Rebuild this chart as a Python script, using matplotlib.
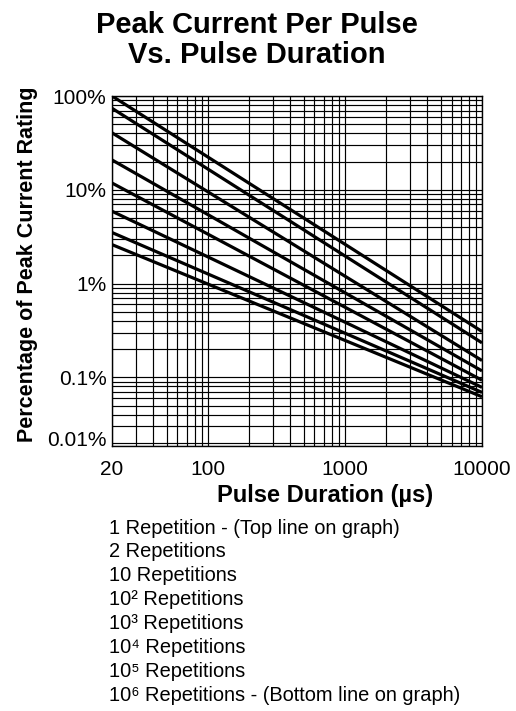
import numpy as np
import matplotlib.pyplot as plt
from matplotlib.ticker import LogLocator, FixedLocator, NullFormatter

plt.rcParams['font.family'] = ['Liberation Sans', 'DejaVu Sans']

# pulse duration end points (µs) and % of peak current at each end
pulse_duration = [20, 10000]
pct_start = [100, 74, 40.5, 20.8, 11.8, 5.9, 3.5, 2.6]
pct_end = [0.308, 0.233, 0.151, 0.117, 0.093, 0.078, 0.069, 0.062]

legend_labels = [
    "1 Repetition - (Top line on graph)",
    "2 Repetitions",
    "10 Repetitions",
    "10\u00b2 Repetitions",
    "10\u00b3 Repetitions",
    "10\u2074 Repetitions",
    "10\u2075 Repetitions",
    "10\u2076 Repetitions - (Bottom line on graph)",
]

x_ticks = [20, 100, 1000, 10000]
x_tick_labels = ["20", "100", "1000", "10000"]
y_bottom = 0.0185
y_ticks = [y_bottom, 0.1, 1, 10, 100]
y_tick_labels = ["0.01%", "0.1%", "1%", "10%", "100%"]

fig = plt.figure(figsize=(5.16, 7.11), dpi=100)
ax = fig.add_axes([112 / 516, 1 - 446 / 711, 370 / 516, 350 / 711])

for s, e in zip(pct_start, pct_end):
    ax.plot(pulse_duration, [s, e], color='black', linewidth=2.3,
            solid_capstyle='butt', zorder=3)

ax.set_xscale('log')
ax.set_yscale('log')
ax.set_xlim(20, 10000)
ax.set_ylim(y_bottom, 100)

ax.xaxis.set_major_locator(FixedLocator(x_ticks))
ax.set_xticklabels(x_tick_labels)
ax.xaxis.set_minor_locator(LogLocator(base=10, subs=np.arange(2, 10)))
ax.xaxis.set_minor_formatter(NullFormatter())

ax.yaxis.set_major_locator(FixedLocator(y_ticks))
ax.set_yticklabels(y_tick_labels)
ax.yaxis.set_minor_locator(LogLocator(base=10, subs=np.arange(2, 10)))
ax.yaxis.set_minor_formatter(NullFormatter())
# bottom label sits on the axis edge, as in the original
ax.get_yticklabels()[0].set_va('baseline')

ax.grid(True, which='both', color='black', linewidth=0.85)
ax.tick_params(which='both', length=0, labelsize=15)
ax.tick_params(axis='x', pad=10)
ax.tick_params(axis='y', pad=4)
for sp in ax.spines.values():
    sp.set_linewidth(1.0)

ax.set_xlabel("Pulse Duration (\u00b5s)", fontsize=17, fontweight='bold')
ax.xaxis.set_label_coords((325 - 112) / 370, -(484 - 446) / 350)
ax.set_ylabel("Percentage of Peak Current Rating", fontsize=15.5, fontweight='bold')
ax.yaxis.set_label_coords(-(112 - 38) / 370, (446 - 264) / 350)

fig.text(257 / 516, 1 - 40 / 711, "Peak Current Per Pulse\nVs. Pulse Duration",
         ha='center', va='center', fontsize=21, fontweight='bold',
         linespacing=1.07)

for i, lab in enumerate(legend_labels):
    fig.text(109 / 516, 1 - (528 + i * 23.9) / 711, lab,
             ha='left', va='center', fontsize=14.4)

fig.savefig('out.png', dpi=100)
